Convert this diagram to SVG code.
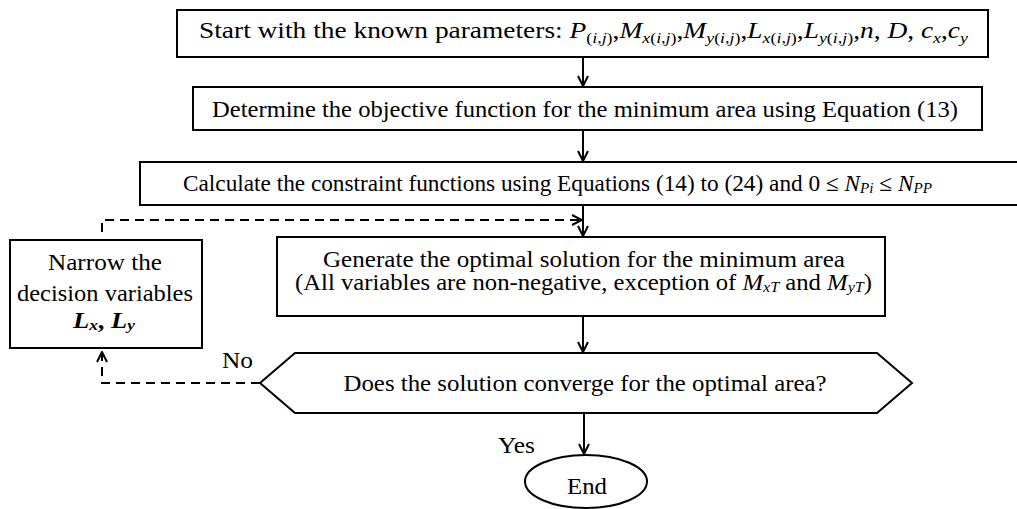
<svg xmlns="http://www.w3.org/2000/svg" width="1017" height="509" viewBox="0 0 1017 509">
<style>
.box{fill:#fff;stroke:#000;stroke-width:2}
.t{font-family:"Liberation Serif","Times New Roman",serif;font-size:23px;fill:#000}
.m{font-style:italic}
.ln{stroke:#000;stroke-width:2;fill:none}
.dash{stroke:#000;stroke-width:2;fill:none;stroke-dasharray:9,6}
.sub{font-size:15px}
</style>
<defs>
<marker id="ah" viewBox="0 0 12 12" refX="11" refY="6" markerWidth="12" markerHeight="12" markerUnits="userSpaceOnUse" orient="auto">
<path d="M1,1 L11,6 L1,11" fill="none" stroke="#000" stroke-width="2"/>
</marker>
</defs>
<g id="connectors">
<line class="ln" x1="583" y1="57" x2="583" y2="86" marker-end="url(#ah)"/>
<line class="ln" x1="583" y1="130" x2="583" y2="161" marker-end="url(#ah)"/>
<line class="ln" x1="583" y1="205" x2="583" y2="236" marker-end="url(#ah)"/>
<polyline class="dash" points="102,232 102,220 582,220" marker-end="url(#ah)"/>
<line class="ln" x1="583" y1="316" x2="583" y2="352" marker-end="url(#ah)"/>
<polyline class="dash" points="260,383 102,383 102,352" marker-end="url(#ah)"/>
<line class="ln" x1="584" y1="413" x2="584" y2="454" marker-end="url(#ah)"/>
<text class="t" x="222" y="368" textLength="31" lengthAdjust="spacingAndGlyphs">No</text>
<text class="t" x="498" y="453" textLength="37" lengthAdjust="spacingAndGlyphs">Yes</text>
</g>
<g id="start">
<rect class="box" x="177" y="10" width="811" height="47"/>
<text class="t" x="199" y="38" textLength="769" lengthAdjust="spacingAndGlyphs">Start with the known parameters: <tspan class="m">P</tspan><tspan class="sub" dy="5">(<tspan class="m">i</tspan>,<tspan class="m">j</tspan>)</tspan><tspan dy="-5">,</tspan><tspan class="m">M</tspan><tspan class="sub" dy="5"><tspan class="m">x</tspan>(<tspan class="m">i</tspan>,<tspan class="m">j</tspan>)</tspan><tspan dy="-5">,</tspan><tspan class="m">M</tspan><tspan class="sub" dy="5"><tspan class="m">y</tspan>(<tspan class="m">i</tspan>,<tspan class="m">j</tspan>)</tspan><tspan dy="-5">,</tspan><tspan class="m">L</tspan><tspan class="sub" dy="5"><tspan class="m">x</tspan>(<tspan class="m">i</tspan>,<tspan class="m">j</tspan>)</tspan><tspan dy="-5">,</tspan><tspan class="m">L</tspan><tspan class="sub" dy="5"><tspan class="m">y</tspan>(<tspan class="m">i</tspan>,<tspan class="m">j</tspan>)</tspan><tspan dy="-5">,</tspan><tspan class="m">n</tspan>, <tspan class="m">D</tspan>, <tspan class="m">c</tspan><tspan class="sub m" dy="5">x</tspan><tspan dy="-5">,</tspan><tspan class="m">c</tspan><tspan class="sub m" dy="5">y</tspan></text>
</g>
<g id="objective">
<rect class="box" x="193" y="87" width="789" height="43"/>
<text class="t" x="585" y="117" text-anchor="middle" textLength="746" lengthAdjust="spacingAndGlyphs">Determine the objective function for the minimum area using Equation (13)</text>
</g>
<g id="constraints">
<rect class="box" x="140" y="162" width="878" height="43"/>
<text class="t" x="183" y="191" textLength="749" lengthAdjust="spacingAndGlyphs">Calculate the constraint functions using Equations (14) to (24) and 0 ≤ <tspan class="m">N</tspan><tspan class="sub m" dy="2">Pi</tspan><tspan dy="-2"> ≤ </tspan><tspan class="m">N</tspan><tspan class="sub m" dy="2">PP</tspan></text>
</g>
<g id="narrow">
<rect class="box" x="10" y="240" width="192" height="108"/>
<text class="t" x="105" y="270" text-anchor="middle" textLength="114" lengthAdjust="spacingAndGlyphs">Narrow the</text>
<text class="t" x="105" y="301" text-anchor="middle" textLength="176" lengthAdjust="spacingAndGlyphs">decision variables</text>
<text class="t" x="104" y="328" text-anchor="middle" font-weight="bold" textLength="62" lengthAdjust="spacingAndGlyphs"><tspan class="m">L</tspan><tspan class="sub m" dy="2">x</tspan><tspan dy="-2">, </tspan><tspan class="m">L</tspan><tspan class="sub m" dy="2">y</tspan></text>
</g>
<g id="generate">
<rect class="box" x="277" y="237" width="608" height="79" stroke-width="3"/>
<text class="t" x="584" y="267" text-anchor="middle" textLength="522" lengthAdjust="spacingAndGlyphs">Generate the optimal solution for the minimum area</text>
<text class="t" x="583.5" y="290" text-anchor="middle" textLength="577" lengthAdjust="spacingAndGlyphs">(All variables are non-negative, exception of <tspan class="m">M</tspan><tspan class="sub m" dy="2">xT</tspan><tspan dy="-2"> and </tspan><tspan class="m">M</tspan><tspan class="sub m" dy="2">yT</tspan><tspan dy="-2">)</tspan></text>
</g>
<g id="decision">
<polygon class="box" points="260,383 295,353 877,353 912,383 877,413 295,413"/>
<text class="t" x="585" y="391" text-anchor="middle" textLength="483" lengthAdjust="spacingAndGlyphs">Does the solution converge for the optimal area?</text>
</g>
<g id="end">
<ellipse class="box" cx="586" cy="481.5" rx="61" ry="26.5"/>
<text class="t" x="587" y="494" text-anchor="middle" textLength="40" lengthAdjust="spacingAndGlyphs">End</text>
</g>
</svg>
